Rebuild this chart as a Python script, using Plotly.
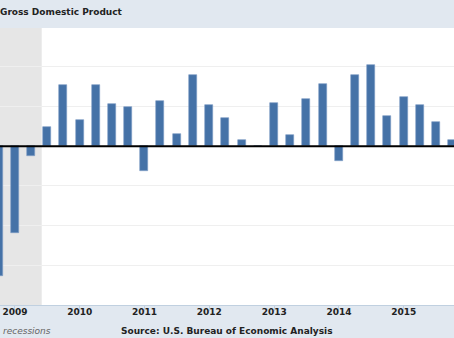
import plotly.graph_objects as go

quarters = [
    "2008-10-01", "2009-01-01", "2009-04-01", "2009-07-01", "2009-10-01",
    "2010-01-01", "2010-04-01", "2010-07-01", "2010-10-01",
    "2011-01-01", "2011-04-01", "2011-07-01", "2011-10-01",
    "2012-01-01", "2012-04-01", "2012-07-01", "2012-10-01",
    "2013-01-01", "2013-04-01", "2013-07-01", "2013-10-01",
    "2014-01-01", "2014-04-01", "2014-07-01", "2014-10-01",
    "2015-01-01", "2015-04-01", "2015-07-01", "2015-10-01",
]
growth = [
    -8.2, -5.5, -0.6, 1.2, 3.85,
    1.65, 3.85, 2.65, 2.45,
    -1.6, 2.85, 0.75, 4.5,
    2.6, 1.8, 0.4, 0.0,
    2.75, 0.7, 3.0, 3.9,
    -0.95, 4.5, 5.1, 1.9,
    3.1, 2.6, 1.55, 0.4,
]
recession = ["2007-12-01", "2009-06-01"]
title_text = "Gross Domestic Product"
source_text = "Source: U.S. Bureau of Economic Analysis"
legend_text = "recessions"

W, H = 454, 338
T, B = 28, 33
plot_h = H - T - B

band = "#e1e8f0"
fnt = "DejaVu Sans"

fig = go.Figure()
fig.add_trace(go.Bar(
    x=quarters, y=growth,
    width=45 * 86400000,
    marker=dict(color="#4572a7", line=dict(width=0.6, color="#7d9cc6")),
    hoverinfo="x+y",
))

fig.update_layout(
    width=W, height=H,
    margin=dict(l=0, r=0, t=T, b=B, pad=0),
    paper_bgcolor=band,
    plot_bgcolor="#ffffff",
    showlegend=False,
    bargap=0,
    xaxis=dict(
        type="date",
        range=["2008-10-09", "2015-10-11"],
        dtick="M12", tick0="2009-01-01", tickformat="%Y",
        ticks="outside", ticklen=5, tickcolor="#c0d0e0", tickwidth=1,
        showgrid=False, showline=True, linecolor="#c0d0e0", linewidth=1,
        tickfont=dict(family=fnt, size=9, color="#222222", weight="bold"),
        ticklabelstandoff=-7,
        fixedrange=True,
    ),
    yaxis=dict(
        range=[-10.02, 7.45],
        dtick=2.5, tick0=0,
        showgrid=True, gridcolor="#efefef", gridwidth=1,
        zeroline=False,
        showticklabels=False, ticks="",
        fixedrange=True,
    ),
    shapes=[
        dict(type="rect", xref="x", yref="paper",
             x0=recession[0], x1=recession[1], y0=0, y1=1,
             fillcolor="#e6e6e6", line=dict(width=0), layer="between"),
        dict(type="line", xref="paper", yref="y",
             x0=0, x1=1, y0=0, y1=0,
             line=dict(color="#000000", width=2), layer="above"),
    ],
    annotations=[
        dict(text=title_text, xref="paper", yref="paper",
             x=-2 / W, y=1 + (T - 11.5) / plot_h,
             xanchor="left", yanchor="middle", showarrow=False,
             font=dict(family=fnt, size=9, color="#222222", weight="bold")),
        dict(text=legend_text, xref="paper", yref="paper",
             x=1 / W, y=-(331 - (H - B)) / plot_h,
             xanchor="left", yanchor="middle", showarrow=False,
             font=dict(family=fnt, size=9, color="#666666", style="italic")),
        dict(text=source_text, xref="paper", yref="paper",
             x=226 / W, y=-(331 - (H - B)) / plot_h,
             xanchor="center", yanchor="middle", showarrow=False,
             font=dict(family=fnt, size=9, color="#222222", weight="bold")),
    ],
)

fig.write_html("out.html")
